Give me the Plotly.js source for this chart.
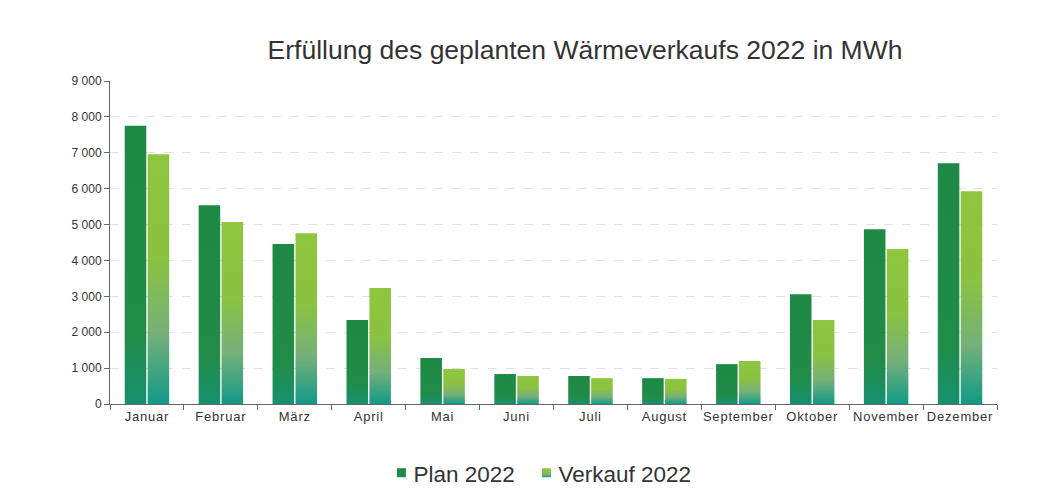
<!DOCTYPE html>
<html>
<head>
<meta charset="utf-8">
<script src="https://cdn.plot.ly/plotly-3.0.1.min.js"></script>
<style>html,body{margin:0;padding:0;background:#fff;}#chart{width:1056px;height:498px;}
.xtick text{letter-spacing:0.8px;}
</style>
</head>
<body>
<div id="chart"></div>
<script>
const months = ["Januar","Februar","März","April","Mai","Juni","Juli","August","September","Oktober","November","Dezember"];
const plan2022 = [7750,5540,4460,2340,1280,835,780,720,1110,3060,4870,6710];
const verkauf2022 = [6960,5070,4760,3230,975,780,720,700,1200,2340,4320,5930];
const yTicks = [0,1000,2000,3000,4000,5000,6000,7000,8000,9000];

const traces = [
  {type:"bar", name:"Plan 2022", x:months, y:plan2022, marker:{color:"#1f8a45"}, hoverinfo:"skip"},
  {type:"bar", name:"Verkauf 2022", x:months, y:verkauf2022, marker:{color:"#8cc63f"}, hoverinfo:"skip"}
];

const layout = {
  width:1056, height:498,
  paper_bgcolor:"#fff", plot_bgcolor:"#fff",
  separators:", ",
  font:{family:"Liberation Sans, Arial, sans-serif", color:"#333", size:12},
  margin:{l:110, r:59, t:81, b:94, autoexpand:false},
  title:{text:"Erfüllung des geplanten Wärmeverkaufs 2022 in MWh", font:{size:26.5, color:"#333"}, x:0.554, xanchor:"center", xref:"container", y:0.9, yanchor:"middle"},
  barmode:"group", bargap:0.38, bargroupgap:0.06,
  xaxis:{type:"category", tickson:"boundaries", ticks:"outside", ticklen:5, tickcolor:"#666", showline:true, linecolor:"#666", linewidth:1, tickfont:{size:13, color:"#333"}, showgrid:false},
  yaxis:{range:[0,9000], tickvals:yTicks, tickformat:",d", ticks:"outside", ticklen:5, tickcolor:"#666", showline:true, linecolor:"#666", linewidth:1, showgrid:true, gridcolor:"#e2e2e2", griddash:"dash", gridwidth:1, zeroline:false, tickfont:{size:12, color:"#333"}},
  showlegend:true,
  legend:{orientation:"h", x:0.306, xanchor:"left", y:-0.214, yanchor:"middle", bgcolor:"rgba(0,0,0,0)", font:{size:22.5, color:"#333"}, itemwidth:30, entrywidth:100, entrywidthmode:"pixels", traceorder:"normal"}
};

Plotly.newPlot("chart", traces, layout, {staticPlot:true}).then(function(gd){
  const svg = gd.querySelector("svg.main-svg");
  const ns = "http://www.w3.org/2000/svg";
  const defs = document.createElementNS(ns, "defs");
  function grad(id, stops){
    const g = document.createElementNS(ns, "linearGradient");
    g.setAttribute("id", id);
    g.setAttribute("x1","0"); g.setAttribute("y1","0"); g.setAttribute("x2","0"); g.setAttribute("y2","1");
    stops.forEach(function(s){
      const st = document.createElementNS(ns, "stop");
      st.setAttribute("offset", s[0]); st.setAttribute("stop-color", s[1]);
      g.appendChild(st);
    });
    defs.appendChild(g);
  }
  grad("gPlan", [["0","#1d8944"],["0.75","#208c48"],["1","#189070"]]);
  grad("gVerk", [["0","#8ec63f"],["0.42","#8ac241"],["0.72","#75b07a"],["1","#129a88"]]);
  svg.insertBefore(defs, svg.firstChild);
  const barTraces = gd.querySelectorAll(".barlayer .trace.bars");
  const ids = ["gPlan","gVerk"];
  barTraces.forEach(function(t, i){
    t.querySelectorAll(".point path").forEach(function(p){ p.style.fill = "url(#" + ids[i] + ")"; });
  });
  gd.querySelectorAll(".legend .scrollbox, .legend").forEach(function(s){ s.removeAttribute("clip-path"); });
  const legPts = gd.querySelectorAll(".legend .traces");
  legPts.forEach(function(t, i){
    t.querySelectorAll(".legendpoints path").forEach(function(p){
      p.style.fill = "url(#" + ids[i] + ")"; p.style.stroke="none";
      const tr = p.getAttribute("transform") || "";
      p.setAttribute("transform", tr + " scale(0.75)");
    });
    t.querySelectorAll("text.legendtext").forEach(function(tx){
      tx.setAttribute("x", "32");
    });
  });
});
</script>
</body>
</html>
